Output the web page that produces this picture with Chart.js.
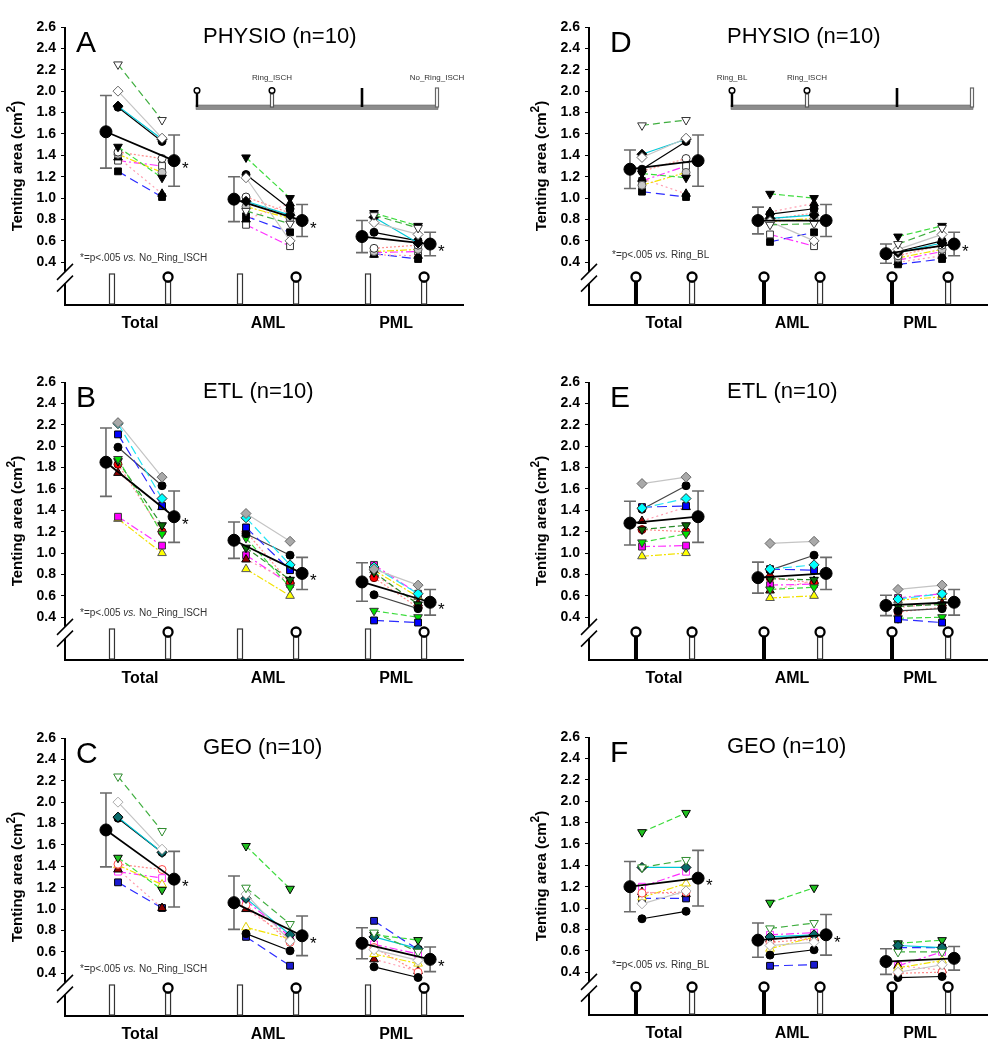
<!DOCTYPE html>
<html>
<head>
<meta charset="utf-8">
<script src="https://cdn.jsdelivr.net/npm/chart.js@4.4.1/dist/chart.umd.min.js"></script>
<style>
html,body{margin:0;padding:0;background:#fff;}
body{width:1003px;height:1050px;position:relative;overflow:hidden;}
canvas{position:absolute;}
</style>
</head>
<body>
<canvas id="cA" width="500" height="340" style="left:0px;top:0px"></canvas>
<canvas id="cB" width="500" height="340" style="left:0px;top:355px"></canvas>
<canvas id="cC" width="500" height="340" style="left:0px;top:711px"></canvas>
<canvas id="cD" width="479" height="340" style="left:524px;top:0px"></canvas>
<canvas id="cE" width="479" height="340" style="left:524px;top:355px"></canvas>
<canvas id="cF" width="479" height="340" style="left:524px;top:710px"></canvas>
<script>
// ---------------- DATA ----------------
const categories = ['Total', 'AML', 'PML'];
const yTickValues = [0.4, 0.6, 0.8, 1.0, 1.2, 1.4, 1.6, 1.8, 2.0, 2.2, 2.4, 2.6];
const yTickLabels = ['0.4', '0.6', '0.8', '1.0', '1.2', '1.4', '1.6', '1.8', '2.0', '2.2', '2.4', '2.6'];

// PHYSIO (panels A and D), 10 animals
const PHYSIO_NoRingISCH_Total = [2.25, 2.00, 1.86, 1.85, 1.48, 1.43, 1.41, 1.38, 1.35, 1.25];
const PHYSIO_RingISCH_Total   = [1.73, 1.56, 1.55, 1.53, 1.19, 1.37, 1.24, 1.04, 1.30, 1.01];
const PHYSIO_RingBL_Total     = [1.68, 1.38, 1.41, 1.27, 1.23, 1.25, 1.12, 1.18, 1.16, 1.06];
const PHYSIO_NoRingISCH_AML   = [0.88, 1.19, 0.97, 1.22, 1.38, 1.01, 0.92, 0.80, 0.75, 0.83];
const PHYSIO_RingISCH_AML     = [0.76, 0.60, 0.84, 0.90, 1.00, 0.86, 0.81, 0.95, 0.55, 0.68];
const PHYSIO_RingBL_AML       = [0.75, 0.78, 0.81, 0.85, 1.04, 0.80, 0.78, 0.87, 0.66, 0.59];
const PHYSIO_NoRingISCH_PML   = [0.84, 0.77, 0.82, 0.68, 0.86, 0.53, 0.50, 0.47, 0.49, 0.48];
const PHYSIO_RingISCH_PML     = [0.72, 0.66, 0.58, 0.60, 0.74, 0.56, 0.52, 0.46, 0.50, 0.43];
const PHYSIO_RingBL_PML       = [0.57, 0.52, 0.49, 0.50, 0.64, 0.46, 0.44, 0.40, 0.42, 0.38];
const PHYSIO_NoRingISCH_mean = [1.62, 0.99, 0.64];
const PHYSIO_NoRingISCH_sd   = [0.34, 0.21, 0.15];
const PHYSIO_RingISCH_mean   = [1.35, 0.79, 0.57];
const PHYSIO_RingISCH_sd     = [0.24, 0.15, 0.11];
const PHYSIO_RingBL_mean     = [1.27, 0.79, 0.48];
const PHYSIO_RingBL_sd       = [0.18, 0.125, 0.09];

// ETL (panels B and E)
const ETL_NoRingISCH_Total = [2.22, 2.21, 2.11, 1.99, 1.88, 1.86, 1.83, 1.75, 1.34, 1.32];
const ETL_RingISCH_Total   = [1.71, 1.51, 1.44, 1.63, 1.18, 1.26, 1.20, 1.43, 1.07, 1.00];
const ETL_RingBL_Total     = [1.65, 1.42, 1.43, 1.41, 1.10, 1.22, 1.22, 1.30, 1.06, 0.97];
const ETL_NoRingISCH_AML   = [1.37, 1.33, 1.24, 1.18, 1.14, 1.05, 1.20, 0.94, 0.98, 0.85];
const ETL_RingISCH_AML     = [1.11, 0.89, 0.84, 0.98, 0.68, 0.75, 0.72, 0.74, 0.71, 0.60];
const ETL_RingBL_AML       = [1.09, 0.85, 0.85, 0.84, 0.66, 0.76, 0.77, 0.65, 0.70, 0.58];
const ETL_NoRingISCH_PML   = [0.85, 0.87, 0.37, 0.61, 0.46, 0.82, 0.77, 0.80, 0.89, 0.84];
const ETL_RingISCH_PML     = [0.70, 0.62, 0.35, 0.48, 0.40, 0.52, 0.49, 0.53, 0.62, 0.59];
const ETL_RingBL_PML       = [0.66, 0.57, 0.38, 0.46, 0.39, 0.50, 0.45, 0.49, 0.58, 0.56];
const ETL_NoRingISCH_mean = [1.85, 1.12, 0.73];
const ETL_NoRingISCH_sd   = [0.32, 0.17, 0.18];
const ETL_RingISCH_mean   = [1.34, 0.81, 0.54];
const ETL_RingISCH_sd     = [0.24, 0.15, 0.12];
const ETL_RingBL_mean     = [1.28, 0.77, 0.51];
const ETL_RingBL_sd       = [0.205, 0.145, 0.095];

// GEO (panel C: No_Ring_ISCH -> Ring_ISCH)
const GEO_C_NoRingISCH_Total = [2.24, 2.00, 1.86, 1.85, 1.48, 1.42, 1.41, 1.37, 1.35, 1.25];
const GEO_C_RingISCH_Total   = [1.73, 1.56, 1.53, 1.53, 1.18, 1.37, 1.23, 1.01, 1.29, 1.01];
const GEO_C_NoRingISCH_AML   = [1.20, 1.14, 1.10, 0.77, 1.59, 1.04, 0.83, 1.00, 1.08, 0.74];
const GEO_C_RingISCH_AML     = [0.86, 0.70, 0.76, 0.61, 1.19, 0.69, 0.72, 0.73, 0.74, 0.47];
const GEO_C_NoRingISCH_PML   = [0.78, 0.62, 0.74, 0.46, 0.76, 0.64, 0.58, 0.53, 0.67, 0.89];
const GEO_C_RingISCH_PML     = [0.60, 0.52, 0.63, 0.36, 0.71, 0.41, 0.49, 0.42, 0.58, 0.62];
const GEO_C_NoRingISCH_mean = [1.74, 1.06, 0.68];
const GEO_C_NoRingISCH_sd   = [0.345, 0.25, 0.145];
const GEO_C_RingISCH_mean   = [1.28, 0.75, 0.53];
const GEO_C_RingISCH_sd     = [0.26, 0.185, 0.115];

// GEO (panel F: Ring_BL -> Ring_ISCH)
const GEO_F_RingBL_Total   = [1.38, 1.04, 1.38, 0.90, 1.71, 1.14, 1.10, 1.15, 1.20, 1.09];
const GEO_F_RingISCH_Total = [1.45, 1.16, 1.38, 0.97, 1.89, 1.15, 1.23, 1.13, 1.34, 1.09];
const GEO_F_RingBL_AML     = [0.81, 0.65, 0.73, 0.56, 1.05, 0.68, 0.62, 0.71, 0.75, 0.46];
const GEO_F_RingISCH_AML   = [0.86, 0.68, 0.75, 0.61, 1.19, 0.71, 0.73, 0.72, 0.77, 0.47];
const GEO_F_RingBL_PML     = [0.59, 0.40, 0.65, 0.35, 0.67, 0.39, 0.44, 0.46, 0.46, 0.63];
const GEO_F_RingISCH_PML   = [0.59, 0.47, 0.63, 0.36, 0.70, 0.40, 0.51, 0.42, 0.59, 0.63];
const GEO_F_RingBL_mean   = [1.20, 0.70, 0.50];
const GEO_F_RingBL_sd     = [0.235, 0.16, 0.12];
const GEO_F_RingISCH_mean = [1.28, 0.75, 0.53];
const GEO_F_RingISCH_sd   = [0.26, 0.19, 0.11];

// significance (asterisk next to the second mean)
const sig_A = [true, true, true];
const sig_B = [true, true, true];
const sig_C = [true, true, true];
const sig_D = [false, false, true];
const sig_E = [false, false, false];
const sig_F = [true, true, false];

// ---------------- STYLES ----------------
const FONT = '"Liberation Sans", Arial, Helvetica, sans-serif';
Chart.defaults.font.family = FONT;
const X_SUBJ = 0.172, X_MEAN = 0.266, X_ICON = 0.219;
const X_MIN = 0.414, X_MAX = 3.523;

const linesStd = [
  ['#3fae3f', [7, 4]], ['#c4c4c4', []], ['#00c8d8', []], ['#000000', []], ['#3ddc3d', [6, 3]],
  ['#ff8c8c', [2, 2]], ['#f2e200', [7, 2, 2, 2]], ['#ff9db0', [2, 3]], ['#ff30ff', [8, 3, 2, 3]], ['#2b2bff', [9, 5]]
];
const linesETL = [
  ['#c4c4c4', []], ['#22e5f5', [9, 4]], ['#2b2bff', [10, 5]], ['#444444', []], ['#3ddc3d', [6, 3]],
  ['#2a8a2a', [6, 3]], ['#ff8c8c', [2, 2]], ['#ff9db0', [2, 3]], ['#ff30ff', [8, 3, 2, 3]], ['#f2e200', [7, 2, 2, 2]]
];
const markersPHYSIO = [
  ['triangle', 180, '#ffffff', '#333'], ['rectRot', 0, '#ffffff', '#666'], ['rectRot', 0, '#000', '#000'],
  ['circle', 0, '#000', '#000'], ['triangle', 180, '#000', '#000'], ['circle', 0, '#ffffff', '#333'],
  ['circle', 0, '#c8c8c8', '#555'], ['triangle', 0, '#000', '#000'], ['rect', 0, '#ffffff', '#333'], ['rect', 0, '#000', '#000']
];
const markersETL = [
  ['rectRot', 0, '#a9a9a9', '#666'], ['rectRot', 0, '#00ffff', '#333'], ['rect', 0, '#0000ff', '#000'],
  ['circle', 0, '#000', '#000'], ['triangle', 180, '#00e000', '#333'], ['triangle', 180, '#0a6a0a', '#000'],
  ['circle', 0, '#ff0000', '#600'], ['triangle', 0, '#8b0000', '#000'], ['rect', 0, '#ff00ff', '#333'], ['triangle', 0, '#ffff00', '#555']
];
const markersGEO = [
  ['triangle', 180, '#ffffff', '#2e8b2e'], ['rectRot', 0, '#ffffff', '#aaa'], ['rectRot', 0, '#0b6b6b', '#000'],
  ['circle', 0, '#000', '#000'], ['triangle', 180, '#20c020', '#000'], ['circle', 0, '#ffffff', '#ff4a4a'],
  ['triangle', 0, '#ffffff', '#e0d000'], ['triangle', 0, '#8b0000', '#000'], ['rect', 0, '#ffffff', '#ff30ff'], ['rect', 0, '#1a1ad0', '#000']
];
function radiusFor(style) { return style === 'circle' ? 4 : style === 'rect' ? 4.8 : 5; }

const panelDefs = [
  { canvas: 'cA', letter: 'A', title: 'PHYSIO (n=10)', col: 0,
    pre: [PHYSIO_NoRingISCH_Total, PHYSIO_NoRingISCH_AML, PHYSIO_NoRingISCH_PML],
    post: [PHYSIO_RingISCH_Total, PHYSIO_RingISCH_AML, PHYSIO_RingISCH_PML],
    preMean: PHYSIO_NoRingISCH_mean, preSd: PHYSIO_NoRingISCH_sd, postMean: PHYSIO_RingISCH_mean, postSd: PHYSIO_RingISCH_sd,
    sig: sig_A, markers: markersPHYSIO, lines: linesStd, preIcon: 'openBar', note: 'No_Ring_ISCH',
    legend: { x0: 197, labels: [null, 'Ring_ISCH', null, 'No_Ring_ISCH'] } },
  { canvas: 'cB', letter: 'B', title: 'ETL (n=10)', col: 0,
    pre: [ETL_NoRingISCH_Total, ETL_NoRingISCH_AML, ETL_NoRingISCH_PML],
    post: [ETL_RingISCH_Total, ETL_RingISCH_AML, ETL_RingISCH_PML],
    preMean: ETL_NoRingISCH_mean, preSd: ETL_NoRingISCH_sd, postMean: ETL_RingISCH_mean, postSd: ETL_RingISCH_sd,
    sig: sig_B, markers: markersETL, lines: linesETL, preIcon: 'openBar', note: 'No_Ring_ISCH', legend: null },
  { canvas: 'cC', letter: 'C', title: 'GEO (n=10)', col: 0,
    pre: [GEO_C_NoRingISCH_Total, GEO_C_NoRingISCH_AML, GEO_C_NoRingISCH_PML],
    post: [GEO_C_RingISCH_Total, GEO_C_RingISCH_AML, GEO_C_RingISCH_PML],
    preMean: GEO_C_NoRingISCH_mean, preSd: GEO_C_NoRingISCH_sd, postMean: GEO_C_RingISCH_mean, postSd: GEO_C_RingISCH_sd,
    sig: sig_C, markers: markersGEO, lines: linesStd, preIcon: 'openBar', note: 'No_Ring_ISCH', legend: null },
  { canvas: 'cD', letter: 'D', title: 'PHYSIO (n=10)', col: 1,
    pre: [PHYSIO_RingBL_Total, PHYSIO_RingBL_AML, PHYSIO_RingBL_PML],
    post: [PHYSIO_RingISCH_Total, PHYSIO_RingISCH_AML, PHYSIO_RingISCH_PML],
    preMean: PHYSIO_RingBL_mean, preSd: PHYSIO_RingBL_sd, postMean: PHYSIO_RingISCH_mean, postSd: PHYSIO_RingISCH_sd,
    sig: sig_D, markers: markersPHYSIO, lines: linesStd, preIcon: 'ringBlack', note: 'Ring_BL',
    legend: { x0: 208, labels: ['Ring_BL', 'Ring_ISCH', null, null] } },
  { canvas: 'cE', letter: 'E', title: 'ETL (n=10)', col: 1,
    pre: [ETL_RingBL_Total, ETL_RingBL_AML, ETL_RingBL_PML],
    post: [ETL_RingISCH_Total, ETL_RingISCH_AML, ETL_RingISCH_PML],
    preMean: ETL_RingBL_mean, preSd: ETL_RingBL_sd, postMean: ETL_RingISCH_mean, postSd: ETL_RingISCH_sd,
    sig: sig_E, markers: markersETL, lines: linesETL, preIcon: 'ringBlack', note: null, legend: null },
  { canvas: 'cF', letter: 'F', title: 'GEO (n=10)', col: 1,
    pre: [GEO_F_RingBL_Total, GEO_F_RingBL_AML, GEO_F_RingBL_PML],
    post: [GEO_F_RingISCH_Total, GEO_F_RingISCH_AML, GEO_F_RingISCH_PML],
    preMean: GEO_F_RingBL_mean, preSd: GEO_F_RingBL_sd, postMean: GEO_F_RingISCH_mean, postSd: GEO_F_RingISCH_sd,
    sig: sig_F, markers: markersGEO, lines: linesStd, preIcon: 'ringBlack', note: 'Ring_BL', legend: null }
];

// ---------------- DRAWING HELPERS ----------------
function circleAt(ctx, x, y, r, lw) {
  ctx.beginPath(); ctx.arc(x, y, r, 0, Math.PI * 2);
  ctx.fillStyle = '#fff'; ctx.fill();
  ctx.lineWidth = lw; ctx.strokeStyle = '#000'; ctx.stroke();
}
function openRect(ctx, x, yTop, w, h, col) {
  ctx.fillStyle = '#fff'; ctx.fillRect(x - w / 2, yTop, w, h);
  ctx.lineWidth = 1.2; ctx.strokeStyle = col; ctx.strokeRect(x - w / 2, yTop, w, h);
}
function drawIcon(ctx, kind, x, bottom) {
  ctx.save();
  if (kind === 'openBar') {
    openRect(ctx, x, bottom - 30, 5, 30, '#333');
  } else {
    if (kind === 'ringBlack') { ctx.fillStyle = '#000'; ctx.fillRect(x - 2, bottom - 22, 4, 22); }
    else { openRect(ctx, x, bottom - 22, 5, 22, '#333'); }
    circleAt(ctx, x, bottom - 27, 4.5, 2.3);
  }
  ctx.restore();
}
function drawLegend(ctx, L) {
  const x0 = L.x0, yb = 107;
  ctx.save();
  ctx.fillStyle = '#8c8c8c'; ctx.fillRect(x0 - 1, yb - 2, 242, 4.5);
  ctx.strokeStyle = '#6a6a6a'; ctx.lineWidth = 0.6; ctx.strokeRect(x0 - 1, yb - 2, 242, 4.5);
  // icon 0: circle on thin black stem
  ctx.fillStyle = '#000'; ctx.fillRect(x0 - 1.2, yb - 14, 2.4, 14);
  circleAt(ctx, x0, yb - 16.5, 2.8, 1.5);
  // icon 1: circle on open stem
  openRect(ctx, x0 + 75, yb - 13, 3, 13, '#555');
  circleAt(ctx, x0 + 75, yb - 16.5, 2.8, 1.5);
  // icon 2: black bar
  ctx.fillStyle = '#000'; ctx.fillRect(x0 + 165 - 1.3, yb - 19, 2.6, 19);
  // icon 3: open bar
  openRect(ctx, x0 + 240, yb - 19, 3, 19, '#666');
  ctx.font = '8px ' + FONT; ctx.fillStyle = '#333'; ctx.textAlign = 'center'; ctx.textBaseline = 'middle';
  const offs = [0, 75, 165, 240];
  L.labels.forEach((t, i) => { if (t) ctx.fillText(t, x0 + offs[i], 78); });
  ctx.restore();
}

function makeChart(def) {
  const canvas = document.getElementById(def.canvas);
  const W = canvas.width;
  const datasets = [];
  const meanData = [];
  categories.forEach((c, g) => {
    const cx = g + 1;
    meanData.push({ x: cx - X_MEAN, y: def.preMean[g] }, { x: cx + X_MEAN, y: def.postMean[g] });
    if (g < categories.length - 1) meanData.push({ x: cx + 0.5, y: null });
  });
  datasets.push({ data: meanData, showLine: true, spanGaps: false, borderColor: '#000', borderWidth: 1.8,
    pointStyle: 'circle', pointRadius: 6, pointBackgroundColor: '#000', pointBorderColor: '#000', pointBorderWidth: 1 });
  for (let s = 0; s < 10; s++) {
    const d = [];
    categories.forEach((c, g) => {
      const cx = g + 1;
      d.push({ x: cx - X_SUBJ, y: def.pre[g][s] }, { x: cx + X_SUBJ, y: def.post[g][s] });
      if (g < categories.length - 1) d.push({ x: cx + 0.5, y: null });
    });
    const m = def.markers[s], l = def.lines[s];
    datasets.push({ data: d, showLine: true, spanGaps: false, borderColor: l[0], borderDash: l[1], borderWidth: 1.2,
      pointStyle: m[0], pointRotation: m[1], pointRadius: radiusFor(m[0]),
      pointBackgroundColor: m[2], pointBorderColor: m[3], pointBorderWidth: 1 });
  }

  const letterDx = def.col === 0 ? 11 : 21;
  const noteDx = def.col === 0 ? 15 : 23;
  const noteY = def.col === 0 ? 258 : 255;

  const deco = {
    id: 'deco' + def.letter,
    beforeDatasetsDraw(chart) {
      const ctx = chart.ctx, xs = chart.scales.x, ys = chart.scales.y;
      ctx.save();
      ctx.strokeStyle = '#6a6a6a'; ctx.lineWidth = 1.6;
      categories.forEach((c, g) => {
        [[g + 1 - X_MEAN, def.preMean[g], def.preSd[g]], [g + 1 + X_MEAN, def.postMean[g], def.postSd[g]]].forEach(([xv, m, sd]) => {
          const px = xs.getPixelForValue(xv), y1 = ys.getPixelForValue(m + sd), y2 = ys.getPixelForValue(m - sd);
          ctx.beginPath();
          ctx.moveTo(px, y1); ctx.lineTo(px, y2);
          ctx.moveTo(px - 6, y1); ctx.lineTo(px + 6, y1);
          ctx.moveTo(px - 6, y2); ctx.lineTo(px + 6, y2);
          ctx.stroke();
        });
      });
      ctx.restore();
    },
    afterDraw(chart) {
      const ctx = chart.ctx, ca = chart.chartArea, xs = chart.scales.x, ys = chart.scales.y;
      const xL = ca.left;
      ctx.save();
      // y axis with break
      const yb1 = ys.getPixelForValue(0.31), yb2 = ys.getPixelForValue(0.2);
      ctx.strokeStyle = '#000'; ctx.lineWidth = 2;
      ctx.beginPath();
      ctx.moveTo(xL, ca.top); ctx.lineTo(xL, yb1);
      ctx.moveTo(xL, yb2); ctx.lineTo(xL, ca.bottom + 1);
      ctx.stroke();
      ctx.lineWidth = 1.5;
      ctx.beginPath();
      ctx.moveTo(xL - 8, yb1 + 8); ctx.lineTo(xL + 8, yb1 - 8);
      ctx.moveTo(xL - 8, yb2 + 8); ctx.lineTo(xL + 8, yb2 - 8);
      ctx.stroke();
      // icons under each group
      categories.forEach((c, g) => {
        drawIcon(ctx, def.preIcon, xs.getPixelForValue(g + 1 - X_ICON), ca.bottom - 1);
        drawIcon(ctx, 'ringOpen', xs.getPixelForValue(g + 1 + X_ICON), ca.bottom - 1);
      });
      // asterisks
      ctx.fillStyle = '#000'; ctx.font = '17px ' + FONT; ctx.textAlign = 'left'; ctx.textBaseline = 'alphabetic';
      categories.forEach((c, g) => {
        if (def.sig[g]) {
          const px = xs.getPixelForValue(g + 1 + X_MEAN), py = ys.getPixelForValue(def.postMean[g]);
          ctx.fillText('*', px + 8, py + 13);
        }
      });
      // panel letter
      ctx.font = '30px ' + FONT; ctx.fillText(def.letter, xL + letterDx, 52);
      // title
      ctx.font = '22px ' + FONT; ctx.fillText(def.title, xL + 138, 43);
      // y title with superscript
      ctx.save();
      ctx.translate(xL - 47, (ca.top + ca.bottom) / 2);
      ctx.rotate(-Math.PI / 2);
      const main = 'Tenting area (cm', sup = '2', tail = ')';
      ctx.font = 'bold 15px ' + FONT; const w1 = ctx.measureText(main).width, w3 = ctx.measureText(tail).width;
      ctx.font = 'bold 12px ' + FONT; const w2 = ctx.measureText(sup).width;
      let tx = -(w1 + w2 + w3) / 2;
      ctx.textBaseline = 'middle';
      ctx.font = 'bold 15px ' + FONT; ctx.fillText(main, tx, 0); tx += w1;
      ctx.font = 'bold 12px ' + FONT; ctx.fillText(sup, tx, -6); tx += w2;
      ctx.font = 'bold 15px ' + FONT; ctx.fillText(tail, tx, 0);
      ctx.restore();
      // significance note
      if (def.note) {
        ctx.fillStyle = '#333'; ctx.textBaseline = 'middle'; ctx.textAlign = 'left';
        let nx = xL + noteDx;
        const parts = [['*=p<.005 ', '10px '], ['vs.', 'italic 10px '], [' ' + def.note, '10px ']];
        parts.forEach(([t, f]) => { ctx.font = f + FONT; ctx.fillText(t, nx, noteY); nx += ctx.measureText(t).width; });
      }
      if (def.legend) drawLegend(ctx, def.legend);
      ctx.restore();
    }
  };

  new Chart(canvas, {
    type: 'scatter',
    data: { datasets },
    options: {
      responsive: false, animation: false, devicePixelRatio: 1, events: [],
      layout: { padding: { top: 27, left: 0, right: W - 463, bottom: 0 } },
      plugins: { legend: { display: false }, tooltip: { enabled: false }, title: { display: false } },
      scales: {
        x: {
          type: 'linear', min: X_MIN, max: X_MAX,
          grid: { display: false, drawTicks: false },
          border: { display: true, color: '#000', width: 2 },
          afterBuildTicks(s) { s.ticks = categories.map((c, i) => ({ value: i + 1 })); },
          ticks: { callback: (v) => categories[Math.round(v) - 1], font: { size: 16, weight: 'bold' }, color: '#000', padding: 9, maxRotation: 0, autoSkip: false },
          afterFit(s) { s.height = 35; }
        },
        y: {
          type: 'linear', min: 0, max: 2.6,
          grid: { display: true, drawOnChartArea: false, drawTicks: true, tickLength: 4, color: '#000', lineWidth: 1 },
          border: { display: false },
          afterBuildTicks(s) { s.ticks = yTickValues.map(v => ({ value: v })); },
          ticks: { callback: (v, i) => yTickLabels[i], font: { size: 14, weight: 'bold' }, color: '#000', padding: 5, autoSkip: false },
          afterFit(s) { s.width = 65; }
        }
      }
    },
    plugins: [deco]
  });
}

panelDefs.forEach(makeChart);
</script>
</body>
</html>
